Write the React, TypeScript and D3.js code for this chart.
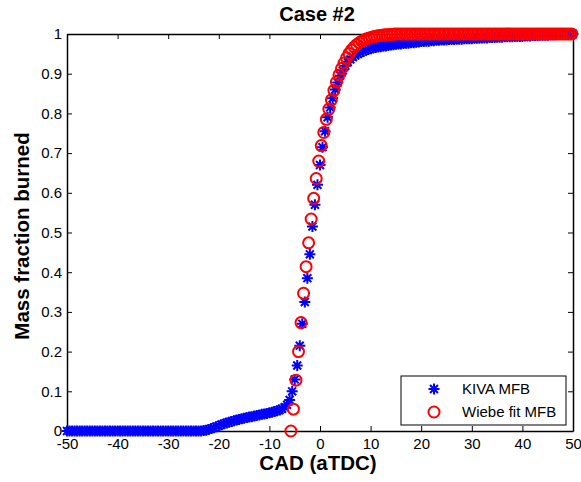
import React, { useEffect, useRef } from 'react';
import * as d3 from 'd3';

// KIVA MFB, crank angle in degrees aTDC
const kivaCad = [
  -50, -49.5, -49, -48.5, -48, -47.5, -47, -46.5, -46, -45.5,
  -45, -44.5, -44, -43.5, -43, -42.5, -42, -41.5, -41, -40.5,
  -40, -39.5, -39, -38.5, -38, -37.5, -37, -36.5, -36, -35.5,
  -35, -34.5, -34, -33.5, -33, -32.5, -32, -31.5, -31, -30.5,
  -30, -29.5, -29, -28.5, -28, -27.5, -27, -26.5, -26, -25.5,
  -25, -24.5, -24, -23.5, -23, -22.5, -22, -21.5, -21, -20.5,
  -20, -19.5, -19, -18.5, -18, -17.5, -17, -16.5, -16, -15.5,
  -15, -14.5, -14, -13.5, -13, -12.5, -12, -11.5, -11, -10.5,
  -10, -9.5, -9, -8.5, -8, -7.5, -7, -6.5, -6, -5.5,
  -5, -4.5, -4, -3.5, -3, -2.5, -2, -1.5, -1, -0.5,
  0, 0.5, 1, 1.5, 2, 2.5, 3, 3.5, 4, 4.5,
  5, 5.5, 6, 6.5, 7, 7.5, 8, 8.5, 9, 9.5,
  10, 10.5, 11, 11.5, 12, 12.5, 13, 13.5, 14, 14.5,
  15, 15.5, 16, 16.5, 17, 17.5, 18, 18.5, 19, 19.5,
  20, 20.5, 21, 21.5, 22, 22.5, 23, 23.5, 24, 24.5,
  25, 25.5, 26, 26.5, 27, 27.5, 28, 28.5, 29, 29.5,
  30, 30.5, 31, 31.5, 32, 32.5, 33, 33.5, 34, 34.5,
  35, 35.5, 36, 36.5, 37, 37.5, 38, 38.5, 39, 39.5,
  40, 40.5, 41, 41.5, 42, 42.5, 43, 43.5, 44, 44.5,
  45, 45.5, 46, 46.5, 47, 47.5, 48, 48.5, 49, 49.5,
  50
];

const kivaMfb = [
  0, 0, 0, 0, 0, 0, 0, 0, 0, 0,
  0, 0, 0, 0, 0, 0, 0, 0, 0, 0,
  0, 0, 0, 0, 0, 0, 0, 0, 0, 0,
  0, 0, 0, 0, 0, 0, 0, 0, 0, 0,
  0, 0, 0, 0, 0, 0, 0, 0, 0, 0,
  0, 0, 0, 0, 0.001, 0.002, 0.004, 0.006, 0.008, 0.011,
  0.013, 0.016, 0.018, 0.020, 0.022, 0.024, 0.026, 0.028, 0.029, 0.031,
  0.032, 0.034, 0.035, 0.036, 0.038, 0.039, 0.040, 0.042, 0.043, 0.044,
  0.046, 0.047, 0.049, 0.051, 0.053, 0.056, 0.060, 0.066, 0.078, 0.100,
  0.130, 0.165, 0.215, 0.270, 0.325, 0.385, 0.445, 0.515, 0.570, 0.620,
  0.670, 0.715, 0.755, 0.790, 0.815, 0.838, 0.860, 0.878, 0.895, 0.908,
  0.920, 0.929, 0.936, 0.942, 0.946, 0.950, 0.953, 0.956, 0.959, 0.961,
  0.963, 0.965, 0.966, 0.967, 0.968, 0.969, 0.970, 0.971, 0.972, 0.973,
  0.974, 0.975, 0.975, 0.976, 0.977, 0.977, 0.978, 0.978, 0.979, 0.980,
  0.981, 0.981, 0.982, 0.982, 0.983, 0.983, 0.984, 0.984, 0.985, 0.985,
  0.985, 0.986, 0.986, 0.986, 0.987, 0.987, 0.987, 0.988, 0.988, 0.988,
  0.988, 0.989, 0.989, 0.989, 0.990, 0.990, 0.990, 0.991, 0.991, 0.991,
  0.992, 0.992, 0.992, 0.993, 0.993, 0.993, 0.993, 0.994, 0.994, 0.994,
  0.994, 0.995, 0.995, 0.995, 0.996, 0.996, 0.996, 0.997, 0.997, 0.997,
  0.997, 0.998, 0.998, 0.998, 0.999, 0.999, 0.999, 0.999, 1, 1,
  1
];

// Wiebe fit MFB
const wiebeCad = [
  -5.75, -5.25, -4.75, -4.25, -3.75, -3.25, -2.75, -2.25, -1.75, -1.25,
  -0.75, -0.25, 0.25, 0.75, 1.25, 1.75, 2.25, 2.75, 3.25, 3.75,
  4.25, 4.75, 5.25, 5.75, 6.25, 6.75, 7.25, 7.75, 8.25, 8.75,
  9.25, 9.75, 10.25, 10.75, 11.25, 11.75, 12.25, 12.75, 13.25, 13.75,
  14.25, 14.75, 15.25, 15.75, 16.25, 16.75, 17.25, 17.75, 18.25, 18.75,
  19.25, 19.75, 20.25, 20.75, 21.25, 21.75, 22.25, 22.75, 23.25, 23.75,
  24.25, 24.75, 25.25, 25.75, 26.25, 26.75, 27.25, 27.75, 28.25, 28.75,
  29.25, 29.75, 30.25, 30.75, 31.25, 31.75, 32.25, 32.75, 33.25, 33.75,
  34.25, 34.75, 35.25, 35.75, 36.25, 36.75, 37.25, 37.75, 38.25, 38.75,
  39.25, 39.75, 40.25, 40.75, 41.25, 41.75, 42.25, 42.75, 43.25, 43.75,
  44.25, 44.75, 45.25, 45.75, 46.25, 46.75, 47.25, 47.75, 48.25, 48.75,
  49.25, 49.75
];

const wiebeMfb = [
  0, 0.055, 0.128, 0.2, 0.273, 0.347, 0.414, 0.474, 0.534, 0.586,
  0.636, 0.68, 0.719, 0.752, 0.785, 0.811, 0.834, 0.858, 0.879, 0.897,
  0.913, 0.927, 0.94, 0.951, 0.96, 0.967, 0.973, 0.978, 0.982, 0.985,
  0.988, 0.99, 0.992, 0.994, 0.995, 0.996, 0.997, 0.998, 0.998, 0.999,
  0.999, 1, 1, 1, 1, 1, 1, 1, 1, 1,
  1, 1, 1, 1, 1, 1, 1, 1, 1, 1,
  1, 1, 1, 1, 1, 1, 1, 1, 1, 1,
  1, 1, 1, 1, 1, 1, 1, 1, 1, 1,
  1, 1, 1, 1, 1, 1, 1, 1, 1, 1,
  1, 1, 1, 1, 1, 1, 1, 1, 1, 1,
  1, 1, 1, 1, 1, 1, 1, 1, 1, 1,
  1, 1
];

const xTicks = [-50, -40, -30, -20, -10, 0, 10, 20, 30, 40, 50];
const xTickLabels = ['-50', '-40', '-30', '-20', '-10', '0', '10', '20', '30', '40', '50'];
const yTicks = [0, 0.1, 0.2, 0.3, 0.4, 0.5, 0.6, 0.7, 0.8, 0.9, 1];
const yTickLabels = ['0', '0.1', '0.2', '0.3', '0.4', '0.5', '0.6', '0.7', '0.8', '0.9', '1'];
const legendLabels = ['KIVA MFB', 'Wiebe fit MFB'];

const FONT = 'Arial, "Liberation Sans", Helvetica, sans-serif';

// MATLAB style asterisk marker
const starPath = (r: number) => {
  const d = r * 0.72;
  return `M${-r},0H${r}M0,${-r}V${r}M${-d},${-d}L${d},${d}M${-d},${d}L${d},${-d}`;
};

const App = () => {
  const svgRef = useRef<SVGSVGElement>(null);

  useEffect(() => {
    const svg = d3.select(svgRef.current);
    svg.selectAll('*').remove();

    const width = 581;
    const height = 482;
    const margin = { top: 34, right: 8, bottom: 51, left: 67 };

    const x = d3.scaleLinear()
      .domain([-50, 50])
      .range([margin.left, width - margin.right]);
    const y = d3.scaleLinear()
      .domain([0, 1])
      .range([height - margin.bottom, margin.top]);

    const styleAxis = (g: any) => {
      g.select('.domain').attr('stroke', '#000').attr('stroke-width', 1.5);
      g.selectAll('.tick line').attr('stroke', '#000').attr('stroke-width', 1);
      g.selectAll('.tick text')
        .attr('fill', '#000')
        .style('font-family', FONT)
        .style('font-size', '15px');
    };

    // bottom
    svg.append('g')
      .attr('transform', `translate(0,${y(0)})`)
      .call(d3.axisBottom(x).tickValues(xTicks).tickSizeInner(-5).tickSizeOuter(0).tickPadding(7)
        .tickFormat((d, i) => xTickLabels[i]))
      .call(styleAxis);

    // top
    svg.append('g')
      .attr('transform', `translate(0,${y(1)})`)
      .call(d3.axisTop(x).tickValues(xTicks).tickSizeInner(-5).tickSizeOuter(0).tickFormat(() => ''))
      .call(styleAxis);

    // left
    svg.append('g')
      .attr('transform', `translate(${x(-50)},0)`)
      .call(d3.axisLeft(y).tickValues(yTicks).tickSizeInner(-5).tickSizeOuter(0).tickPadding(5)
        .tickFormat((d, i) => yTickLabels[i]))
      .call(styleAxis);

    // right
    svg.append('g')
      .attr('transform', `translate(${x(50)},0)`)
      .call(d3.axisRight(y).tickValues(yTicks).tickSizeInner(-5).tickSizeOuter(0).tickFormat(() => ''))
      .call(styleAxis);

    // KIVA stars
    svg.append('g')
      .selectAll('path')
      .data(kivaCad.map((c, i) => [c, kivaMfb[i]]))
      .join('path')
      .attr('transform', d => `translate(${x(d[0])},${y(d[1])})`)
      .attr('d', starPath(5.5))
      .attr('fill', 'none')
      .attr('stroke', '#0000ff')
      .attr('stroke-width', 2);

    // Wiebe circles
    svg.append('g')
      .selectAll('circle')
      .data(wiebeCad.map((c, i) => [c, wiebeMfb[i]]))
      .join('circle')
      .attr('cx', d => x(d[0]))
      .attr('cy', d => y(d[1]))
      .attr('r', 5.5)
      .attr('fill', 'none')
      .attr('stroke', '#ff0000')
      .attr('stroke-width', 2);

    // title and axis labels
    svg.append('text')
      .attr('x', 317)
      .attr('y', 21)
      .attr('text-anchor', 'middle')
      .style('font-family', FONT)
      .style('font-weight', 'bold')
      .style('font-size', '20px')
      .text('Case #2');

    svg.append('text')
      .attr('x', 318)
      .attr('y', 470)
      .attr('text-anchor', 'middle')
      .style('font-family', FONT)
      .style('font-weight', 'bold')
      .style('font-size', '20.5px')
      .text('CAD (aTDC)');

    svg.append('text')
      .attr('transform', 'translate(29,236) rotate(-90)')
      .attr('text-anchor', 'middle')
      .style('font-family', FONT)
      .style('font-weight', 'bold')
      .style('font-size', '20.5px')
      .text('Mass fraction burned');

    // legend
    const lg = svg.append('g').attr('transform', 'translate(401,376)');
    lg.append('rect')
      .attr('width', 165)
      .attr('height', 49)
      .attr('fill', '#fff')
      .attr('stroke', '#000')
      .attr('stroke-width', 1);
    lg.append('path')
      .attr('transform', 'translate(33,13)')
      .attr('d', starPath(5.5))
      .attr('fill', 'none')
      .attr('stroke', '#0000ff')
      .attr('stroke-width', 2);
    lg.append('circle')
      .attr('cx', 33)
      .attr('cy', 36)
      .attr('r', 5.5)
      .attr('fill', 'none')
      .attr('stroke', '#ff0000')
      .attr('stroke-width', 2);
    lg.selectAll('text.lbl')
      .data(legendLabels)
      .join('text')
      .attr('class', 'lbl')
      .attr('x', 61)
      .attr('y', (d, i) => 18 + i * 23)
      .style('font-family', FONT)
      .style('font-size', '15px')
      .text(d => d);
  }, []);

  return (
    <svg
      ref={svgRef}
      width={581}
      height={482}
      style={{ position: 'absolute', left: 0, top: 0, background: '#fff' }}
    />
  );
};

export default App;
